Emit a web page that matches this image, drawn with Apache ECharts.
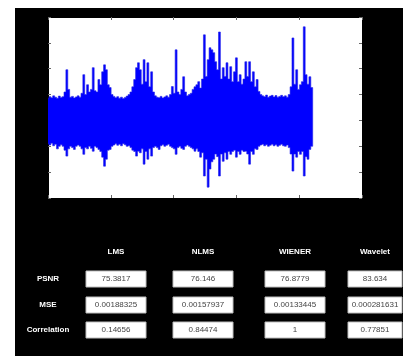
<!DOCTYPE html>
<html>
<head>
<meta charset="utf-8">
<script src="https://cdn.jsdelivr.net/npm/echarts@6/dist/echarts.min.js"></script>
<style>
  html, body { margin: 0; padding: 0; background: #ffffff; }
  #panel { position: absolute; left: 15px; top: 8px; width: 388px; height: 348px; background: #000000; }
</style>
</head>
<body>
<div id="panel"></div>
<script>
// Filtered signal: per-sample envelope (upper / lower), one value every 3 sample units
const sampleStep = 3;
const envHigh = [
  0.085, 0.092, 0.088, 0.095, 0.090, 0.086, 0.094, 0.089, 0.092, 0.110,
  0.196, 0.120, 0.090, 0.093, 0.087, 0.091, 0.095, 0.090, 0.105, 0.177,
  0.100, 0.138, 0.110, 0.120, 0.204, 0.115, 0.110, 0.158, 0.138, 0.188,
  0.215, 0.196, 0.138, 0.127, 0.100, 0.093, 0.088, 0.092, 0.086, 0.090,
  0.085, 0.089, 0.094, 0.100, 0.110, 0.130, 0.158, 0.204, 0.223, 0.196,
  0.140, 0.235, 0.150, 0.223, 0.130, 0.188, 0.110, 0.095, 0.090, 0.088,
  0.093, 0.087, 0.091, 0.095, 0.090, 0.100, 0.131, 0.105, 0.273, 0.110,
  0.100, 0.120, 0.169, 0.110, 0.095, 0.100, 0.105, 0.120, 0.130, 0.138,
  0.150, 0.125, 0.160, 0.331, 0.170, 0.235, 0.281, 0.273, 0.262, 0.227,
  0.196, 0.342, 0.160, 0.204, 0.170, 0.223, 0.160, 0.208, 0.150, 0.188,
  0.242, 0.150, 0.177, 0.140, 0.160, 0.227, 0.170, 0.227, 0.150, 0.188,
  0.130, 0.158, 0.112, 0.100, 0.095, 0.092, 0.098, 0.090, 0.094, 0.097,
  0.091, 0.096, 0.090, 0.093, 0.097, 0.092, 0.095, 0.090, 0.100, 0.130,
  0.319, 0.140, 0.196, 0.120, 0.138, 0.150, 0.362, 0.177, 0.140, 0.169,
  0.127
];
const envLow = [
  -0.090, -0.095, -0.088, -0.098, -0.092, -0.110, -0.100, -0.094, -0.100, -0.115,
  -0.138, -0.110, -0.100, -0.105, -0.112, -0.100, -0.095, -0.100, -0.110, -0.131,
  -0.105, -0.110, -0.100, -0.108, -0.119, -0.100, -0.105, -0.112, -0.120, -0.142,
  -0.177, -0.150, -0.115, -0.112, -0.100, -0.095, -0.090, -0.096, -0.092, -0.098,
  -0.090, -0.094, -0.100, -0.098, -0.105, -0.115, -0.120, -0.138, -0.119, -0.125,
  -0.110, -0.169, -0.120, -0.150, -0.110, -0.138, -0.105, -0.100, -0.105, -0.112,
  -0.098, -0.094, -0.100, -0.096, -0.092, -0.100, -0.105, -0.110, -0.131, -0.105,
  -0.100, -0.108, -0.112, -0.100, -0.095, -0.100, -0.105, -0.110, -0.119, -0.110,
  -0.120, -0.142, -0.125, -0.215, -0.150, -0.258, -0.188, -0.160, -0.150, -0.130,
  -0.140, -0.215, -0.130, -0.158, -0.125, -0.150, -0.120, -0.131, -0.120, -0.115,
  -0.142, -0.120, -0.131, -0.115, -0.120, -0.119, -0.130, -0.169, -0.120, -0.131,
  -0.110, -0.112, -0.100, -0.095, -0.092, -0.098, -0.094, -0.100, -0.096, -0.092,
  -0.098, -0.094, -0.100, -0.096, -0.092, -0.098, -0.100, -0.095, -0.105, -0.130,
  -0.196, -0.130, -0.142, -0.120, -0.131, -0.120, -0.215, -0.140, -0.150, -0.112,
  -0.100
];

// Result table
const methods = ['LMS', 'NLMS', 'WIENER', 'Wavelet'];
const metrics = ['PSNR', 'MSE', 'Correlation'];
const psnrValues = [75.3817, 76.146, 76.8779, 83.634];
const mseValues = [0.00188325, 0.00157937, 0.00133445, 0.000281631];
const corrValues = [0.14656, 0.84474, 1, 0.77851];

// One min/max column per sample: [x, peak, trough]
const columns = envHigh.map((h, k) => [k * sampleStep, h, envLow[k]]);

// The whole waveform is one closed outline: peaks left to right, troughs right to left,
// each sample held flat across its own column width.
function renderWaveform(params, api) {
  if (params.dataIndex !== 0) return null;
  const half = sampleStep / 2;
  const pts = [];
  for (let k = 0; k < columns.length; k++) {
    const c = columns[k];
    pts.push(api.coord([c[0] - half, c[1]]));
    pts.push(api.coord([c[0] + half, c[1]]));
  }
  for (let k = columns.length - 1; k >= 0; k--) {
    const c = columns[k];
    pts.push(api.coord([c[0] + half, c[2]]));
    pts.push(api.coord([c[0] - half, c[2]]));
  }
  return {
    type: 'polygon',
    shape: { points: pts },
    style: { fill: '#0000ff', stroke: '#2424e8', lineWidth: 0.6 }
  };
}

// Table layout (panel coordinates)
const colCenters = [101, 188, 280, 360];
const colWidths = [60, 60, 60, 54];
const headerY = 244;
const rowTops = [263, 289, 314];
const boxH = 16;
const rowLabelX = 33;
const tableRows = [psnrValues, mseValues, corrValues];

const graphics = [];
methods.forEach((m, i) => {
  graphics.push({
    type: 'text', x: colCenters[i], y: headerY,
    style: { text: m, fill: '#ffffff', font: 'bold 8px "Liberation Sans", Arial, sans-serif',
             align: 'center', verticalAlign: 'middle' }
  });
});
metrics.forEach((name, r) => {
  graphics.push({
    type: 'text', x: rowLabelX, y: rowTops[r] + boxH / 2,
    style: { text: name, fill: '#ffffff', font: 'bold 8px "Liberation Sans", Arial, sans-serif',
             align: 'center', verticalAlign: 'middle' }
  });
  tableRows[r].forEach((v, i) => {
    graphics.push({
      type: 'rect',
      shape: { x: colCenters[i] - colWidths[i] / 2, y: rowTops[r], width: colWidths[i], height: boxH },
      style: { fill: '#ffffff', stroke: '#bdbdbd', lineWidth: 1 }
    });
    graphics.push({
      type: 'text', x: colCenters[i], y: rowTops[r] + boxH / 2,
      style: { text: String(v), fill: '#444444', font: '8px "Liberation Sans", Arial, sans-serif',
               align: 'center', verticalAlign: 'middle' },
      z: 10
    });
  });
});

const tickStyle = { show: true, inside: true, length: 3, lineStyle: { color: '#666666', width: 1 } };
const hiddenLabel = { show: false };
const axisLine = { show: true, onZero: false, lineStyle: { color: '#000000', width: 1 } };

const chart = echarts.init(document.getElementById('panel'), null, { renderer: 'canvas' });
chart.setOption({
  backgroundColor: '#000000',
  animation: false,
  grid: {
    left: 33, top: 9, width: 314, height: 181,
    show: true, backgroundColor: '#ffffff', borderWidth: 0
  },
  xAxis: [
    { type: 'value', position: 'bottom', min: 0, max: 500, interval: 100,
      axisLine: axisLine, axisTick: tickStyle, axisLabel: hiddenLabel, splitLine: { show: false } },
    { type: 'value', position: 'top', min: 0, max: 500, interval: 100,
      axisLine: axisLine, axisTick: tickStyle, axisLabel: hiddenLabel, splitLine: { show: false } }
  ],
  yAxis: [
    { type: 'value', position: 'left', min: -0.3, max: 0.4, interval: 0.1,
      axisLine: axisLine, axisTick: tickStyle, axisLabel: hiddenLabel, splitLine: { show: false } },
    { type: 'value', position: 'right', min: -0.3, max: 0.4, interval: 0.1,
      axisLine: axisLine, axisTick: tickStyle, axisLabel: hiddenLabel, splitLine: { show: false } }
  ],
  series: [{
    type: 'custom',
    xAxisIndex: 0, yAxisIndex: 0,
    renderItem: renderWaveform,
    encode: { x: 0, y: [1, 2] },
    data: columns,
    clip: true,
    silent: true
  }],
  graphic: graphics
});
</script>
</body>
</html>
